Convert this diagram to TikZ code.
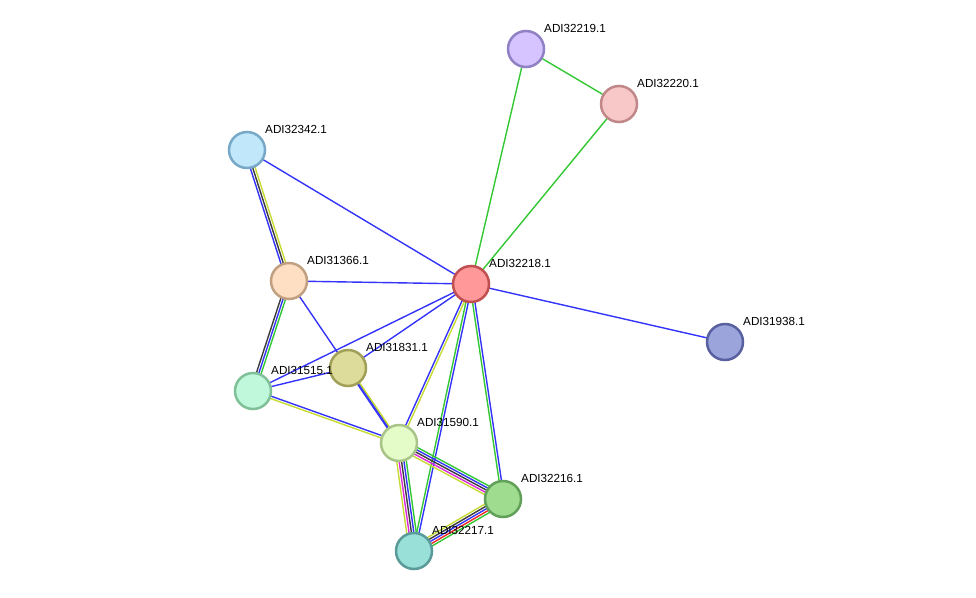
\documentclass[tikz,border=0pt]{standalone}
\usepackage{fontspec}
\setmainfont{Liberation Sans}
\usepackage{tikz}
\usetikzlibrary{calc,backgrounds}

\definecolor{lnkblue}{RGB}{51,51,250}
\definecolor{lnkgreen}{RGB}{51,200,51}
\definecolor{lnkyellow}{RGB}{199,219,51}
\definecolor{lnkgray}{RGB}{60,60,60}
\definecolor{lnkmagenta}{RGB}{220,40,220}
\definecolor{lnkred}{RGB}{240,40,40}

% one line per evidence colour, side by side
\newcommand{\linkset}[3]{%
  \foreach \c [count=\n] in {#3} {\xdef\nlinks{\n}}%
  \foreach \c [count=\i] in {#3} {%
    \pgfmathsetmacro{\off}{(\i-(\nlinks+1)/2)*2.4}%
    \draw[link, draw=\c] ($(#1.center)!\off pt!90:(#2.center)$) -- ($(#2.center)!\off pt!-90:(#1.center)$);
  }%
}

\begin{document}
\begin{tikzpicture}[
  x=1pt, y=-1pt,
  prot/.style={circle, minimum size=36pt, inner sep=0pt, line width=2.5pt},
  tag/.style={anchor=west, inner sep=0pt, font=\fontsize{11.7}{13}\selectfont},
  link/.style={line width=1.4pt}
]
\useasboundingbox (0,0) rectangle (976,597);

\node[prot, fill={rgb,255:red,213;green,196;blue,255}, draw={rgb,255:red,144;green,128;blue,196}] (p32219) at (526,49) {};
\node[prot, fill={rgb,255:red,248;green,200;blue,200}, draw={rgb,255:red,192;green,136;blue,136}] (p32220) at (619,104) {};
\node[prot, fill={rgb,255:red,192;green,232;blue,250}, draw={rgb,255:red,120;green,168;blue,200}] (p32342) at (247,150) {};
\node[prot, fill={rgb,255:red,254;green,223;blue,195}, draw={rgb,255:red,192;green,160;blue,128}] (p31366) at (289,281) {};
\node[prot, fill={rgb,255:red,255;green,153;blue,153}, draw={rgb,255:red,192;green,80;blue,80}] (p32218) at (471,284) {};
\node[prot, fill={rgb,255:red,156;green,164;blue,220}, draw={rgb,255:red,88;green,96;blue,160}] (p31938) at (725,342) {};
\node[prot, fill={rgb,255:red,222;green,220;blue,154}, draw={rgb,255:red,160;green,160;blue,88}] (p31831) at (348,368) {};
\node[prot, fill={rgb,255:red,192;green,248;blue,220}, draw={rgb,255:red,128;green,192;blue,152}] (p31515) at (253,391) {};
\node[prot, fill={rgb,255:red,228;green,252;blue,200}, draw={rgb,255:red,168;green,196;blue,136}] (p31590) at (399,443) {};
\node[prot, fill={rgb,255:red,160;green,220;blue,144}, draw={rgb,255:red,96;green,160;blue,88}] (p32216) at (503,499) {};
\node[prot, fill={rgb,255:red,152;green,224;blue,216}, draw={rgb,255:red,90;green,154;blue,152}] (p32217) at (414,551) {};

\node[tag] (t32219) at ($(p32219)+(18,-21)$) {ADI32219.1};
\node[tag] (t32220) at ($(p32220)+(18,-21)$) {ADI32220.1};
\node[tag] (t32342) at ($(p32342)+(18,-21)$) {ADI32342.1};
\node[tag] (t31366) at ($(p31366)+(18,-21)$) {ADI31366.1};
\node[tag] (t32218) at ($(p32218)+(18,-21)$) {ADI32218.1};
\node[tag] (t31938) at ($(p31938)+(18,-21)$) {ADI31938.1};
\node[tag] (t31831) at ($(p31831)+(18,-21)$) {ADI31831.1};
\node[tag] (t31515) at ($(p31515)+(18,-21)$) {ADI31515.1};
\node[tag] (t31590) at ($(p31590)+(18,-21)$) {ADI31590.1};
\node[tag] (t32216) at ($(p32216)+(18,-21)$) {ADI32216.1};
\node[tag] (t32217) at ($(p32217)+(18,-21)$) {ADI32217.1};

\begin{scope}[on background layer]
\linkset{p32219}{p32220}{lnkgreen}
\linkset{p32219}{p32218}{lnkgreen}
\linkset{p32220}{p32218}{lnkgreen}
\linkset{p32342}{p32218}{lnkblue}
\linkset{p32342}{p31366}{lnkblue,lnkgray,lnkyellow}
\linkset{p31366}{p32218}{lnkblue}
\linkset{p31366}{p31515}{lnkgray,lnkblue,lnkgreen}
\linkset{p31366}{p31590}{lnkblue}
\linkset{p32218}{p31938}{lnkblue}
\linkset{p32218}{p31515}{lnkblue}
\linkset{p32218}{p31831}{lnkblue}
\linkset{p32218}{p31590}{lnkblue,lnkyellow}
\linkset{p32218}{p32217}{lnkgreen,lnkblue}
\linkset{p32218}{p32216}{lnkgreen,lnkblue}
\linkset{p31515}{p31831}{lnkblue}
\linkset{p31515}{p31590}{lnkyellow,lnkblue}
\linkset{p31831}{p31590}{lnkblue,lnkyellow}
\linkset{p31590}{p32216}{lnkyellow,lnkmagenta,lnkgray,lnkblue,lnkgreen}
\linkset{p31590}{p32217}{lnkyellow,lnkmagenta,lnkgray,lnkblue,lnkgreen}
\linkset{p32217}{p32216}{lnkgreen,lnkred,lnkblue,lnkgray,lnkyellow}
\end{scope}
\end{tikzpicture}
\end{document}
